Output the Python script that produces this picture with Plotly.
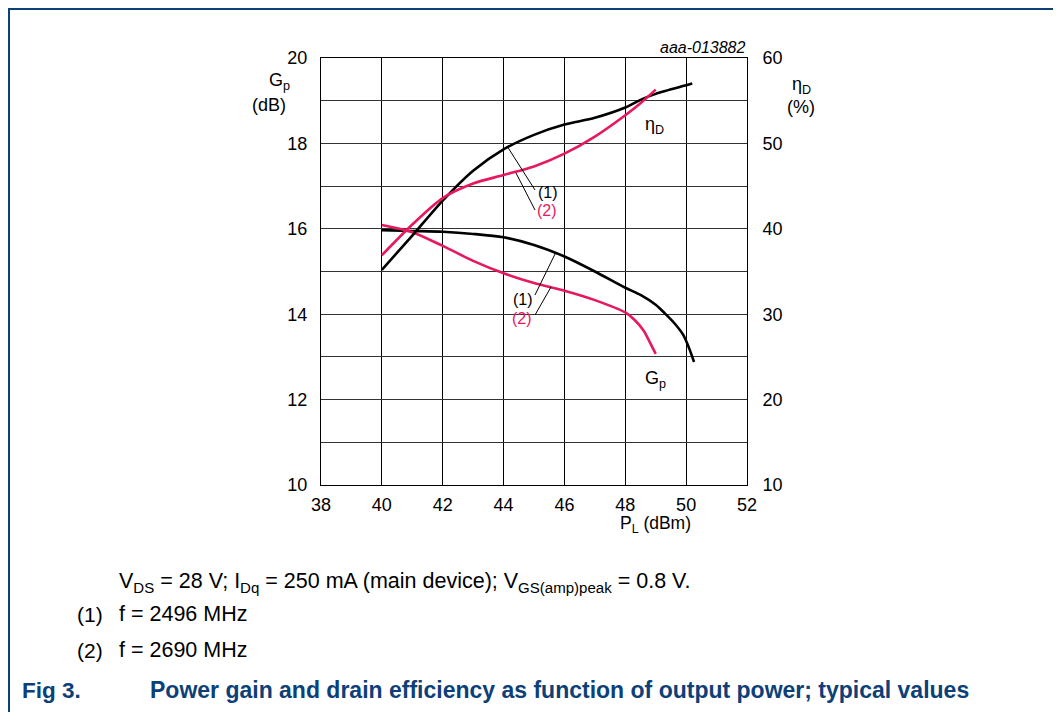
import plotly.graph_objects as go

# ---------------- data ----------------
eta1_x = [40, 41, 42, 43, 44, 45, 46, 47, 48, 48.5, 49, 50, 50.2]
eta1_y = [35.2, 39.2, 43.3, 46.8, 49.3, 51.0, 52.2, 53.0, 54.2, 55.1, 55.8, 56.8, 57.0]

eta2_x = [40, 41, 42, 43, 44, 45, 46, 47, 48, 48.5, 49]
eta2_y = [36.9, 40.5, 43.6, 45.3, 46.3, 47.3, 48.8, 50.8, 53.3, 54.7, 56.3]

gp1_x = [40, 41, 42, 43, 44, 45, 46, 47, 48, 48.5, 49, 49.3, 49.6, 49.9, 50.1, 50.26]
gp1_y = [15.97, 15.95, 15.93, 15.88, 15.8, 15.62, 15.35, 15.0, 14.62, 14.45, 14.22, 14.02, 13.8, 13.52, 13.2, 12.88]

gp2_x = [40, 41, 42, 43, 44, 45, 46, 47, 48, 48.3, 48.6, 48.8, 49.0]
gp2_y = [16.09, 15.92, 15.6, 15.25, 14.96, 14.73, 14.55, 14.33, 14.04, 13.87, 13.62, 13.35, 13.07]

x_ticks = [38, 40, 42, 44, 46, 48, 50, 52]
gp_ticks = [10, 12, 14, 16, 18, 20]
eta_ticks = [10, 20, 30, 40, 50, 60]

BLACK = "#000000"
RED = "#e8185e"
BLUE = "#0d3f78"
FONT = "Liberation Sans, Arial, sans-serif"

# page offset (browser body margin)
OFF = 8
# plot area in page pixels
L, R, T, B = 321, 747, 58, 485
PAGE_W, PAGE_H = 1061, 712
W, H = PAGE_W - OFF, PAGE_H - OFF


def px(xp):
    return (xp - L) / (R - L)


def py(yp):
    return (B - yp) / (B - T)


fig = go.Figure()
fig.add_trace(go.Scatter(x=eta1_x, y=eta1_y, mode="lines", yaxis="y2",
                         line=dict(color=BLACK, width=2.6, shape="spline", smoothing=0.8), showlegend=False))
fig.add_trace(go.Scatter(x=eta2_x, y=eta2_y, mode="lines", yaxis="y2",
                         line=dict(color=RED, width=2.6, shape="spline", smoothing=0.8), showlegend=False))
fig.add_trace(go.Scatter(x=gp1_x, y=gp1_y, mode="lines",
                         line=dict(color=BLACK, width=2.6, shape="spline", smoothing=0.8), showlegend=False))
fig.add_trace(go.Scatter(x=gp2_x, y=gp2_y, mode="lines",
                         line=dict(color=RED, width=2.6, shape="spline", smoothing=0.8), showlegend=False))

fig.update_layout(
    width=W, height=H,
    margin=dict(l=L - OFF, r=W - (R - OFF), t=T - OFF, b=H - (B - OFF)),
    paper_bgcolor="white", plot_bgcolor="white",
    font=dict(family=FONT, size=18, color="black"),
    xaxis=dict(range=[38, 52], tickvals=x_ticks, showgrid=True, gridcolor="black", gridwidth=1,
               showline=True, linecolor="black", linewidth=1, mirror=True, ticks="",
               zeroline=False, tickfont=dict(size=18), ticklabelstandoff=3),
    yaxis=dict(range=[10, 20], tickvals=list(range(10, 21)),
               ticktext=[str(v) if v in gp_ticks else "" for v in range(10, 21)],
               showgrid=True, gridcolor="#333333", gridwidth=1,
               showline=True, linecolor="black", linewidth=1, ticks="", zeroline=False,
               tickfont=dict(size=18), ticklabelstandoff=9),
    yaxis2=dict(range=[10, 60], tickvals=eta_ticks, overlaying="y", side="right",
                showgrid=False, showline=True, linecolor="black", linewidth=1, ticks="",
                zeroline=False, tickfont=dict(size=18), ticklabelstandoff=11),
)

ann = []


def text(x, y, s, color="black", size=18, xanchor="center", yanchor="middle", xref="paper", yref="paper", **kw):
    ann.append(dict(x=x, y=y, xref=xref, yref=yref, text=s, showarrow=False,
                    font=dict(color=color, size=size, family=FONT),
                    xanchor=xanchor, yanchor=yanchor, **kw))


# axis titles
text(px(279), py(82), "G<sub>p</sub>")
text(px(269), py(105), "(dB)")
text(px(801), py(86), "η<sub>D</sub>")
text(px(801), py(107), "(%)")
text(px(655), py(524), "P<sub>L</sub> (dBm)", size=17.5)
text(px(748), py(48), "<i>aaa-013882</i>", size=16, xanchor="right")

# curve labels
text(px(654), py(126), "η<sub>D</sub>")
text(px(655), py(379), "G<sub>p</sub>")
text(px(548), py(192), "(1)", size=16)
text(px(547), py(211), "(2)", color=RED, size=16)
text(px(523), py(299), "(1)", size=16)
text(px(522), py(318), "(2)", color=RED, size=16)

# footer
text(px(117), py(582), "V<sub>DS</sub> = 28 V; I<sub>Dq</sub> = 250 mA (main device); V<sub>GS(amp)peak</sub> = 0.8 V.",
     size=21.5, xanchor="left")
text(px(75), py(614), "(1)", size=21, xanchor="left")
text(px(117), py(614), "f = 2496 MHz", size=21.5, xanchor="left")
text(px(75), py(650), "(2)", size=21, xanchor="left")
text(px(117), py(650), "f = 2690 MHz", size=21.5, xanchor="left")
text(px(20), py(690), "<b>Fig 3.</b>", color=BLUE, size=22.5, xanchor="left")
text(px(148), py(690), "<b>Power gain and drain efficiency as function of output power; typical values</b>",
     color=BLUE, size=23, xanchor="left")

fig.update_layout(annotations=ann)

shapes = []


def seg(x0, y0, x1, y1, color="black", width=1):
    shapes.append(dict(type="line", xref="paper", yref="paper",
                       x0=px(x0), y0=py(y0), x1=px(x1), y1=py(y1),
                       line=dict(color=color, width=width)))


# leader lines
seg(535, 190, 507, 146)
seg(535, 210, 516, 173)
seg(535, 295, 556, 252)
seg(535, 315, 551, 287)

# page border
seg(8, 9, PAGE_W, 9, color=BLUE, width=2)
seg(9, 8, 9, PAGE_H, color=BLUE, width=2)

fig.update_layout(shapes=shapes)

fig.write_html("out.html")
